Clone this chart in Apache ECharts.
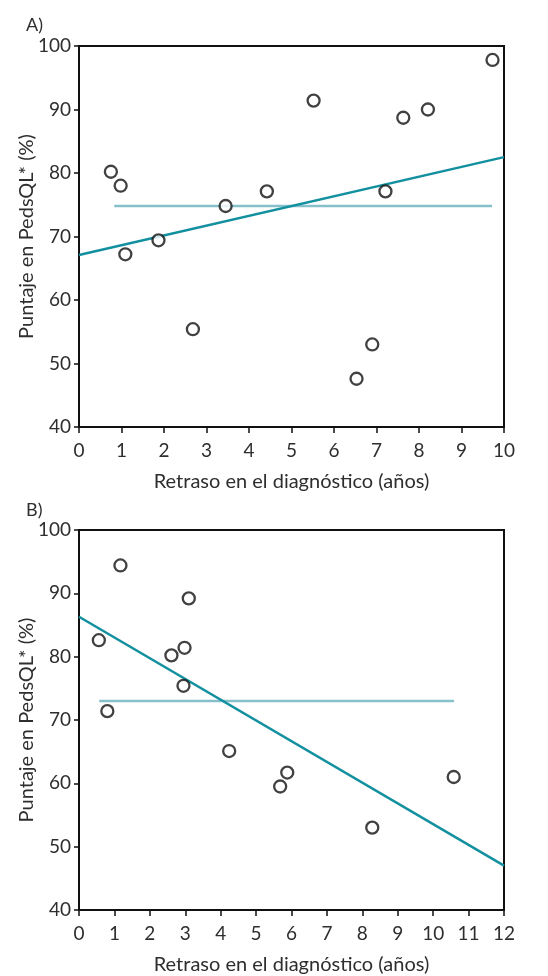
<!DOCTYPE html>
<html>
<head>
<meta charset="utf-8">
<script src="https://cdn.jsdelivr.net/npm/echarts@6/dist/echarts.min.js"></script>
<style>
html,body{margin:0;padding:0;background:#fff;}
#c{width:548px;height:976px;}
</style>
</head>
<body>
<div id="c"></div>
<script>
// Panel A data
var pointsA = [[0.75,80.2],[0.98,78.0],[1.09,67.2],[1.87,69.4],[2.68,55.4],[3.45,74.8],[4.42,77.1],[5.52,91.4],[6.53,47.6],[6.9,53.0],[7.21,77.1],[7.63,88.7],[8.21,90.0],[9.73,97.8]];
var regA = [[0,67.1],[10,82.5]];
var meanA = [[0.83,74.8],[9.72,74.8]];
// Panel B data
var pointsB = [[0.56,82.6],[0.8,71.4],[1.17,94.4],[2.61,80.2],[2.95,75.4],[2.98,81.4],[3.1,89.2],[4.24,65.1],[5.68,59.5],[5.88,61.7],[8.28,53.0],[10.58,61.0]];
var regB = [[0,86.3],[12,47.0]];
var meanB = [[0.57,73.0],[10.59,73.0]];
var xNameText = 'Retraso en el diagnóstico (años)';
var yNameText = 'Puntaje en PedsQL* (%)';

var FONT = 'Lato';
var TXT = '#2e2e2e';
function xAxis(gi, max){
  return {gridIndex:gi, type:'value', min:0, max:max, interval:1,
    name:xNameText, nameLocation:'middle', nameGap:45,
    nameTextStyle:{fontFamily:FONT,fontSize:20,color:TXT},
    axisLine:{show:true,lineStyle:{color:'#111',width:2}},
    axisTick:{show:true,length:6,inside:false,lineStyle:{color:'#111',width:1.5}},
    axisLabel:{fontFamily:FONT,fontSize:19,color:TXT,margin:14},
    splitLine:{show:false}};
}
function yAxis(gi){
  return {gridIndex:gi, type:'value', min:40, max:100, interval:10,
    name:yNameText, nameLocation:'middle', nameGap:42, nameMoveOverlap:false,
    nameTextStyle:{fontFamily:FONT,fontSize:20,color:TXT},
    axisLine:{show:true,lineStyle:{color:'#111',width:2}},
    axisTick:{show:true,length:5,inside:false,lineStyle:{color:'#111',width:1.5}},
    axisLabel:{fontFamily:FONT,fontSize:19,color:TXT,margin:8},
    splitLine:{show:false}};
}
var scatterStyle = {color:'#fff',borderColor:'#111',borderWidth:2.3};
var chart = echarts.init(document.getElementById('c'), null, {renderer:'canvas'});
chart.setOption({
  animation:false,
  backgroundColor:'#fff',
  title:[
    {text:'A)',left:21,top:11,textStyle:{fontFamily:FONT,fontSize:18,fontWeight:'normal',color:TXT}},
    {text:'B)',left:21,top:496,textStyle:{fontFamily:FONT,fontSize:18,fontWeight:'normal',color:TXT}}
  ],
  grid:[
    {left:79,top:46,width:425,height:381,show:true,borderColor:'#111',borderWidth:2,backgroundColor:'transparent'},
    {left:79,top:530,width:425,height:381,show:true,borderColor:'#111',borderWidth:2,backgroundColor:'transparent'}
  ],
  xAxis:[xAxis(0,10), xAxis(1,12)],
  yAxis:[yAxis(0), yAxis(1)],
  series:[
    {type:'line',xAxisIndex:0,yAxisIndex:0,data:meanA,symbol:'none',lineStyle:{color:'#86c0cb',width:2.5},z:2},
    {type:'line',xAxisIndex:0,yAxisIndex:0,data:regA,symbol:'none',lineStyle:{color:'#13909f',width:2.5},z:3},
    {type:'scatter',xAxisIndex:0,yAxisIndex:0,data:pointsA,symbol:'circle',symbolSize:12,itemStyle:scatterStyle,z:4},
    {type:'line',xAxisIndex:1,yAxisIndex:1,data:meanB,symbol:'none',lineStyle:{color:'#86c0cb',width:2.5},z:2},
    {type:'line',xAxisIndex:1,yAxisIndex:1,data:regB,symbol:'none',lineStyle:{color:'#13909f',width:2.5},z:3},
    {type:'scatter',xAxisIndex:1,yAxisIndex:1,data:pointsB,symbol:'circle',symbolSize:12,itemStyle:scatterStyle,z:4}
  ]
});
</script>
</body>
</html>
